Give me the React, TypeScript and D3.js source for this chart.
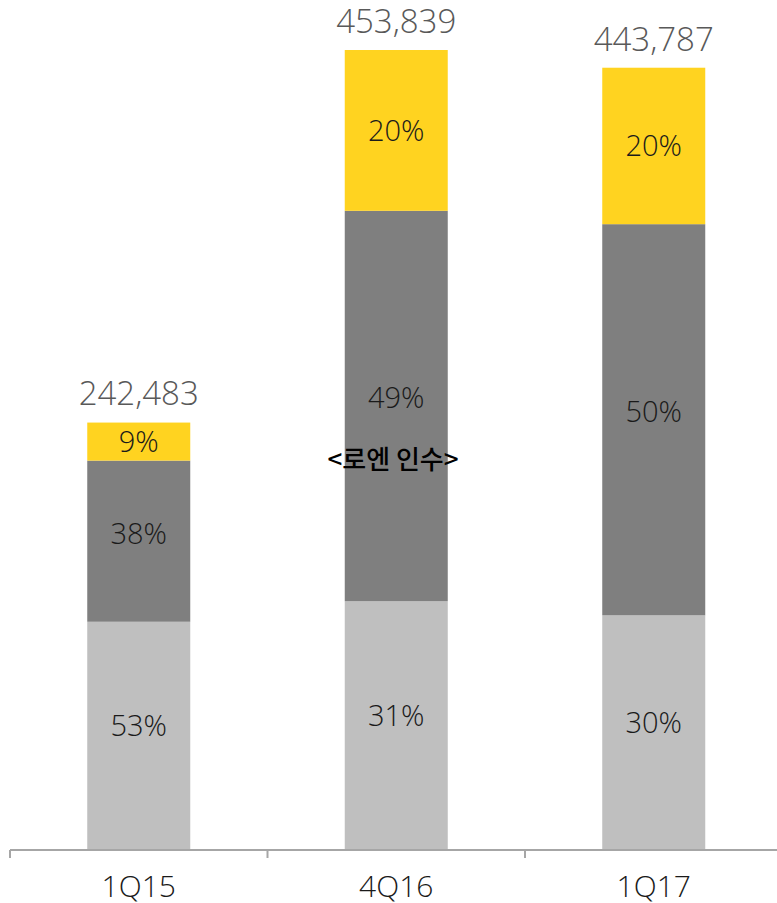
import React from "react";
import * as d3 from "d3";

const categories = ["1Q15", "4Q16", "1Q17"];
const totals = [242483, 453839, 443787];
const shareLight = [0.534, 0.311, 0.30];
const shareDark = [0.377, 0.488, 0.50];
const shareYellow = [0.089, 0.201, 0.20];
const labelLight = ["53%", "31%", "30%"];
const labelDark = ["38%", "49%", "50%"];
const labelYellow = ["9%", "20%", "20%"];
const annotation = "<로엔 인수>";

const W = 777;
const H = 903;
const FONT = "'Open Sans', 'Noto Sans', sans-serif";

export default function App() {
  const x = d3.scaleBand<string>().domain(categories).range([10, 782.5]).paddingInner(0.6).paddingOuter(0.3);
  const y = d3.scaleLinear().domain([0, 453839]).range([850, 50]);

  const series = [
    { shares: shareLight, labels: labelLight, color: "#BFBFBF", off: -10 },
    { shares: shareDark, labels: labelDark, color: "#7F7F7F", off: -8 },
    { shares: shareYellow, labels: labelYellow, color: "#FFD320", off: 0 },
  ];

  const bars: React.ReactNode[] = [];
  const labels: React.ReactNode[] = [];
  categories.forEach((c, i) => {
    let cum = 0;
    const bx = x(c)!;
    const bw = x.bandwidth();
    series.forEach((s, k) => {
      const v0 = cum;
      const v1 = cum + s.shares[i] * totals[i];
      cum = v1;
      const y0 = y(v0);
      const y1 = y(v1);
      bars.push(<rect key={`b${i}${k}`} x={bx} y={y1} width={bw} height={y0 - y1} fill={s.color} />);
      labels.push(
        <text key={`l${i}${k}`} x={bx + bw / 2} y={(y0 + y1) / 2 + s.off} dy="0.36em" textAnchor="middle"
          fontSize={29} fill="#1a1a1a" fontFamily={FONT} fontWeight={300}>{s.labels[i]}</text>
      );
    });
    labels.push(
      <text key={`t${i}`} x={bx + bw / 2} y={y(totals[i]) - 29} dy="0.36em" textAnchor="middle"
        fontSize={33} fill="#595959" fontFamily={FONT} fontWeight={300}>{d3.format(",")(totals[i])}</text>
    );
  });

  const ticks = [10, x.step() + 10, 2 * x.step() + 10];

  return (
    <svg width={W} height={H} style={{ position: "absolute", left: 0, top: 0, background: "#fff" }}>
      {bars}
      <line x1={10} x2={777} y1={850} y2={850} stroke="#A6A6A6" strokeWidth={2} />
      {ticks.map((t, i) => (
        <line key={i} x1={t} x2={t} y1={850} y2={858} stroke="#A6A6A6" strokeWidth={2} />
      ))}
      {categories.map((c) => (
        <text key={c} x={x(c)! + x.bandwidth() / 2} y={886} dy="0.36em" textAnchor="middle"
          fontSize={30} fill="#1a1a1a" fontFamily={FONT} fontWeight={300}>{c}</text>
      ))}
      {labels}
      <text x={393} y={460} dy="0.36em" textAnchor="middle" fontSize={26} fill="#000"
        fontFamily="'Noto Sans CJK KR', sans-serif" fontWeight={500}>{annotation}</text>
    </svg>
  );
}
